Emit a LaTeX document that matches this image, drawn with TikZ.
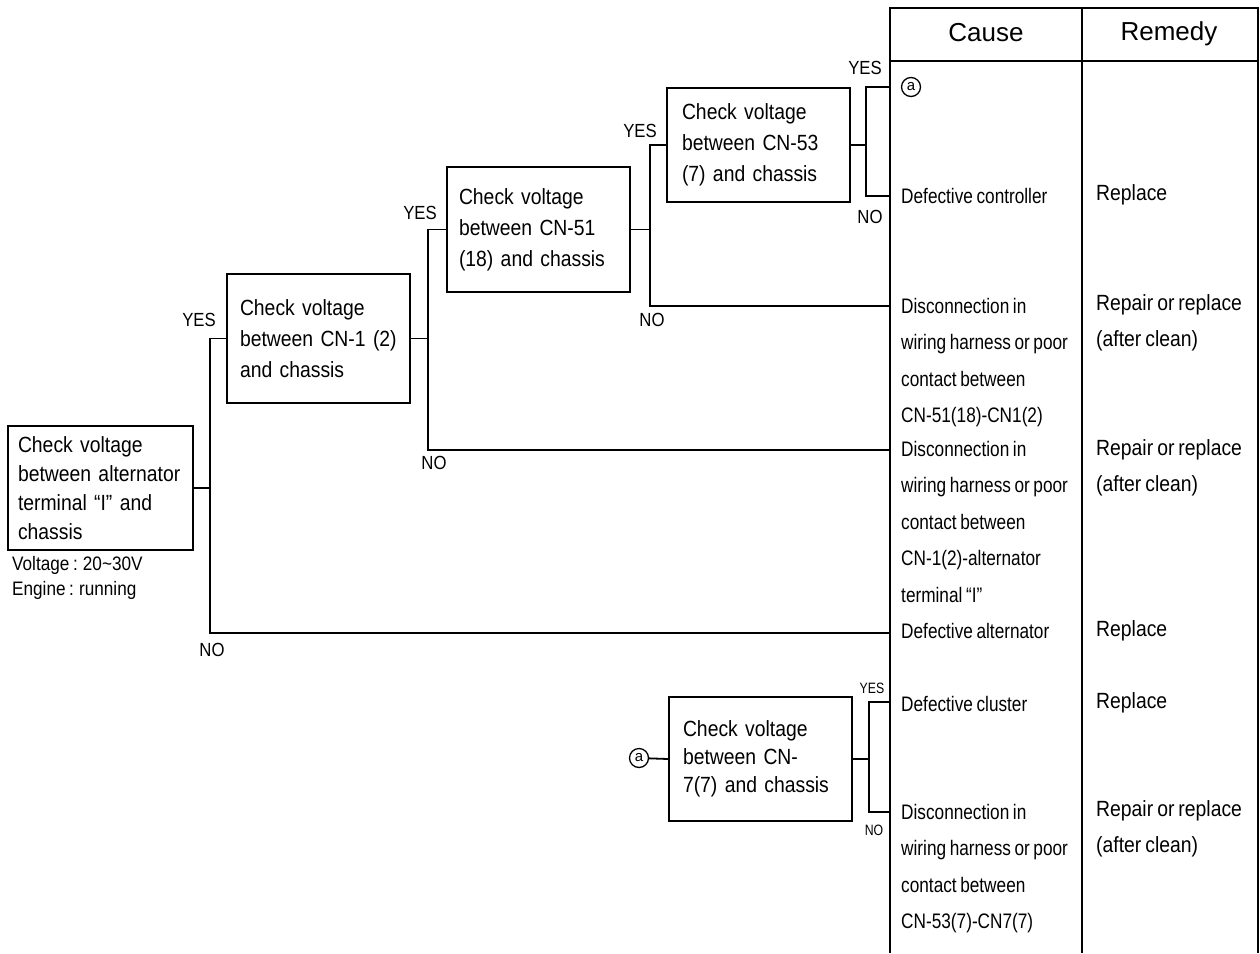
\documentclass[tikz,border=0pt]{standalone}
\usepackage{fontspec}
\setmainfont{Liberation Sans}
\newfontfamily\nrwfont[FakeStretch=0.88, Ligatures=TeX, WordSpace=0.75]{Liberation Sans}
\newfontfamily\tgtfont[FakeStretch=0.82, Ligatures=TeX, WordSpace=0.75]{Liberation Sans}
\begin{document}
\begin{tikzpicture}[
    x=1pt, y=-1pt,
    chk/.style={draw, line width=2pt, minimum width=183pt, minimum height=125pt, inner ysep=0pt,
                text width=157pt, align=left, font=\fontsize{22}{31}\nrwfont},
    wire/.style={line width=1.8pt},
    rule/.style={line width=2.2pt},
    yn/.style={font=\fontsize{19}{19}\nrwfont, inner sep=0pt},
    cause/.style={anchor=north west, align=left, inner sep=0pt, font=\fontsize{21}{36.5}\tgtfont},
    remedy/.style={cause, font=\fontsize{22}{36.5}\nrwfont},
    head/.style={font=\fontsize{26}{26}\selectfont, inner sep=0pt},
    tagc/.style={draw, circle, line width=1.3pt, inner sep=0pt, minimum size=19pt, font=\fontsize{15}{15}\selectfont}
]
\useasboundingbox (0,0) rectangle (1260,953);

% table frame
\draw[rule] (890,953) -- (890,8) -- (1258,8) -- (1258,953);
\draw[rule] (1082,8) -- (1082,953);
\draw[rule] (890,61) -- (1258,61);
\node[head] (hcause) at (986,33) {Cause};
\node[head] (hremedy) at (1169,34) {Remedy};

\coordinate (e1) at (890,87);
\coordinate (e2) at (890,196);
\coordinate (e3) at (890,306);
\coordinate (e4) at (890,450);
\coordinate (e5) at (890,633);
\coordinate (e6) at (890,702);
\coordinate (e7) at (890,812);

% checks
\node[chk, minimum width=185pt, minimum height=124pt, text width=165pt, font=\fontsize{22}{29}\nrwfont] (chk1) at (100.5,488)
    {Check voltage\\between alternator\\terminal ``I'' and\\chassis};
\node[anchor=north west, align=left, inner sep=0pt, font=\fontsize{19.5}{25}\nrwfont] (cond) at (12,556)
    {Voltage : 20\textasciitilde30V\\Engine : running};
\node[chk, minimum height=129pt] (chk2) at (318.5,338.5) {Check voltage\\between CN-1 (2)\\and chassis};
\node[chk, text width=159pt] (chk3) at (538.5,229.5) {Check voltage\\between CN-51\\(18) and chassis};
\node[chk, minimum height=114pt, text width=153pt] (chk4) at (758.5,145) {Check voltage\\between CN-53\\(7) and chassis};
\node[chk, minimum height=124pt, text width=155pt, font=\fontsize{22}{28}\nrwfont] (chk5) at (760.5,759)
    {Check voltage\\between CN-\\7(7) and chassis};
\node[tagc] (ina) at (639,758) {a};

\coordinate (j1) at ([xshift=16]chk1.east);
\coordinate (j2) at ([xshift=17]chk2.east);
\coordinate (j3) at ([xshift=19]chk3.east);
\coordinate (j4) at ([xshift=15]chk4.east);
\coordinate (j5) at ([xshift=16]chk5.east);

\draw[wire] (chk1.east) -- (j1);
\draw[wire] (chk2.west) -| (j1) |- (e5);
\draw[wire] (chk2.east) -- (j2);
\draw[wire] (chk3.west) -| (j2) |- (e4);
\draw[wire] (chk3.east) -- (j3);
\draw[wire] (chk4.west) -| (j3) |- (e3);
\draw[wire] (chk4.east) -- (j4);
\draw[wire] (e1) -| (j4) |- (e2);
\draw[wire] (ina) -- (chk5.west);
\draw[wire] (chk5.east) -- (j5);
\draw[wire] (e6) -| (j5) |- (e7);

\node[yn] (yes1) at (199,320) {YES};
\node[yn] (no1) at (212,650) {NO};
\node[yn] (yes2) at (420,213) {YES};
\node[yn] (no2) at (434,463) {NO};
\node[yn] (yes3) at (640,131) {YES};
\node[yn] (no3) at (652,320) {NO};
\node[yn] (yes4) at (865,68) {YES};
\node[yn] (no4) at (870,217) {NO};
\node[yn, font=\fontsize{15}{15}\tgtfont] (yes5) at (872,688) {YES};
\node[yn, font=\fontsize{15}{15}\tgtfont] (no5) at (874,830) {NO};

% causes and remedies
\node[tagc] (c1) at (911,87) {a};
\node[cause] (c2) at (901,188) {Defective controller};
\node[cause] (c3) at (901,298) {Disconnection in\\wiring harness or poor\\contact between\\CN-51(18)-CN1(2)};
\node[cause] (c4) at (901,441) {Disconnection in\\wiring harness or poor\\contact between\\CN-1(2)-alternator\\terminal ``I''};
\node[cause] (c5) at (901,623) {Defective alternator};
\node[cause] (c6) at (901,696) {Defective cluster};
\node[cause] (c7) at (901,804) {Disconnection in\\wiring harness or poor\\contact between\\CN-53(7)-CN7(7)};

\node[remedy] (r2) at (1096,184) {Replace};
\node[remedy] (r3) at (1096,294) {Repair or replace\\(after clean)};
\node[remedy] (r4) at (1096,439) {Repair or replace\\(after clean)};
\node[remedy] (r5) at (1096,620) {Replace};
\node[remedy] (r6) at (1096,692) {Replace};
\node[remedy] (r7) at (1096,800) {Repair or replace\\(after clean)};
\end{tikzpicture}
\end{document}
